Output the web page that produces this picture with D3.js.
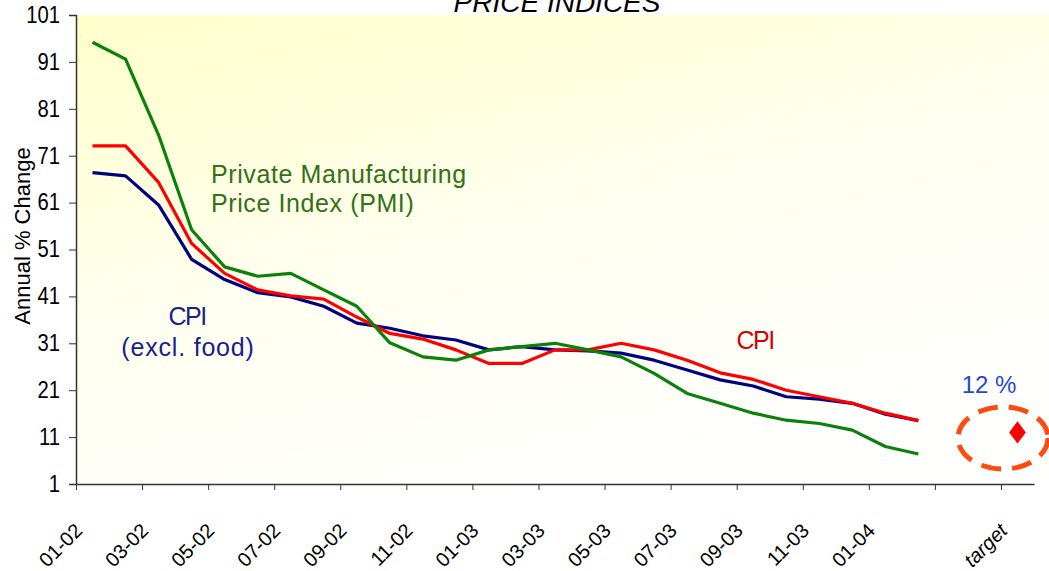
<!DOCTYPE html>
<html>
<head>
<meta charset="utf-8">
<script src="https://cdn.jsdelivr.net/npm/d3@7.9.0/dist/d3.min.js"></script>
<style>
  body { margin: 0; background: #fff; }
  svg text { font-family: "Liberation Sans", Arial, sans-serif; }
</style>
</head>
<body>
<svg id="chart" width="1049" height="571"></svg>
<script>
// Data (annual % change)
const months = ['01-02','02-02','03-02','04-02','05-02','06-02','07-02','08-02','09-02','10-02','11-02','12-02',
                '01-03','02-03','03-03','04-03','05-03','06-03','07-03','08-03','09-03','10-03','11-03','12-03',
                '01-04','02-04'];
const categories = [...months, 'gap1', 'gap2', 'target'];
const pmi = [95.2, 91.6, 75.4, 55.2, 47.3, 45.3, 45.9, 42.4, 38.9, 31.1, 28.1, 27.4, 29.6,
             30.3, 31.0, 29.6, 28.1, 24.6, 20.3, 18.2, 16.1, 14.6, 13.9, 12.5, 9.0, 7.4];
const cpi = [73.1, 73.1, 65.3, 52.3, 45.9, 42.4, 41.1, 40.4, 36.6, 33.1, 31.9, 29.6, 26.7,
             26.7, 29.6, 29.6, 31.0, 29.6, 27.4, 24.7, 23.3, 21.0, 19.6, 18.2, 16.1, 14.5];
const cpiExFood = [67.4, 66.7, 60.5, 48.9, 44.6, 41.8, 40.9, 38.9, 35.3, 34.2, 32.6, 31.7, 29.6,
                   30.3, 29.6, 29.4, 28.9, 27.4, 25.3, 23.2, 21.9, 19.6, 19.1, 18.2, 15.9, 14.5];
const targetValue = 12;
const yTicks = [1, 11, 21, 31, 41, 51, 61, 71, 81, 91, 101];

const svg = d3.select('#chart');
const plotLeft = 76, plotRight = 1034, plotTop = 15, plotBottom = 484;

// Background gradient of the plot area
const defs = svg.append('defs');
const grad = defs.append('linearGradient').attr('id', 'bg')
  .attr('x1', 0).attr('y1', 0).attr('x2', 0.5).attr('y2', 1);
grad.append('stop').attr('offset', '0%').attr('stop-color', '#ffffca');
grad.append('stop').attr('offset', '55%').attr('stop-color', '#fffff0');
grad.append('stop').attr('offset', '100%').attr('stop-color', '#fffffd');
svg.append('rect').attr('x', plotLeft).attr('y', plotTop)
  .attr('width', 1049 - plotLeft).attr('height', plotBottom - plotTop)
  .attr('fill', 'url(#bg)');

// Scales
const x = d3.scaleBand().domain(categories).range([plotLeft, plotRight]).padding(0);
const xc = d => x(d) + x.bandwidth() / 2;
const y = d3.scaleLinear().domain([1, 101]).range([plotBottom, plotTop]);
const tickPos = d3.scaleLinear().domain([0, categories.length]).range([plotLeft, plotRight]);

// Title (its upper part runs off the top, as in the source)
svg.append('text').attr('x', 557).attr('y', 12)
  .attr('text-anchor', 'middle').attr('font-size', 28).attr('font-style', 'italic')
  .attr('fill', '#000').text('PRICE INDICES');

// Y axis (labels are narrow in the source, so squeeze them)
const sx = 0.88;
const yAxis = svg.append('g').attr('transform', `translate(${plotLeft},0)`)
  .call(d3.axisLeft(y).tickValues(yTicks).tickSize(7).tickPadding(9).tickFormat(d3.format('d')));
yAxis.select('.domain').attr('stroke', '#333').attr('stroke-width', 1.5);
yAxis.selectAll('.tick line').attr('stroke', '#333');
yAxis.selectAll('.tick text')
  .attr('x', -16 / sx)
  .attr('transform', `scale(${sx},1)`)
  .attr('font-size', 23).attr('fill', '#000')
  .attr('font-family', '"Liberation Sans", Arial, sans-serif');

svg.append('text')
  .attr('transform', 'translate(30,236) rotate(-90)')
  .attr('text-anchor', 'middle').attr('font-size', 22).attr('fill', '#000')
  .text('Annual % Change');

// X axis: tick marks every two categories
const xAxis = svg.append('g').attr('transform', `translate(0,${plotBottom})`)
  .call(d3.axisBottom(tickPos).tickValues(d3.range(0, categories.length, 2))
    .tickSize(6).tickSizeOuter(0).tickFormat(''));
xAxis.select('.domain').attr('stroke', '#333').attr('stroke-width', 1.5);
xAxis.selectAll('.tick line').attr('stroke', '#333');

// X labels at every second category, rotated
const labelCats = categories.filter((d, i) => i % 2 === 0);
svg.append('g').selectAll('text').data(labelCats).join('text')
  .attr('transform', d => `translate(${xc(d) - 9},${plotBottom + 48}) rotate(-45)`)
  .attr('text-anchor', 'end').attr('font-size', 20).attr('fill', '#000')
  .attr('font-style', d => d === 'target' ? 'italic' : 'normal')
  .text(d => d.startsWith('gap') ? '' : d);

// Lines
const line = d3.line().x((d, i) => xc(months[i])).y(d => y(d));
const series = [
  { values: cpiExFood, color: '#000080' },
  { values: cpi, color: '#ff0000' },
  { values: pmi, color: '#0b800b' }
];
svg.append('g').selectAll('path').data(series).join('path')
  .attr('d', d => line(d.values))
  .attr('fill', 'none').attr('stroke', d => d.color)
  .attr('stroke-width', 3.2).attr('stroke-linejoin', 'round');

// Target marker and dashed ellipse
svg.append('ellipse').attr('cx', 1003).attr('cy', 438).attr('rx', 45).attr('ry', 31)
  .attr('fill', 'none').attr('stroke', '#ff4a10').attr('stroke-width', 5)
  .attr('stroke-dasharray', '20,11');
svg.append('path')
  .attr('d', d3.symbol().type(d3.symbolDiamond).size(200))
  .attr('transform', `translate(${xc('target')},${y(targetValue)}) scale(1.1,0.85)`)
  .attr('fill', '#ff0000');
svg.append('text').attr('x', 989).attr('y', 393).attr('text-anchor', 'middle')
  .attr('font-size', 24).attr('fill', '#1f48d4').text('12 %');

// Series annotations
const pmiLabel = svg.append('text').attr('font-size', 25).attr('letter-spacing', 0.6)
  .attr('fill', '#347018');
pmiLabel.append('tspan').attr('x', 211).attr('y', 183).text('Private Manufacturing');
pmiLabel.append('tspan').attr('x', 211).attr('y', 212).text('Price Index (PMI)');

const exLabel = svg.append('text').attr('font-size', 25).attr('fill', '#1c1c8c')
  .attr('text-anchor', 'middle');
exLabel.append('tspan').attr('x', 187).attr('y', 325).attr('letter-spacing', -1.5).text('CPI');
exLabel.append('tspan').attr('x', 188).attr('y', 356).attr('letter-spacing', 0.8).text('(excl. food)');

svg.append('text').attr('x', 755).attr('y', 349).attr('text-anchor', 'middle')
  .attr('font-size', 25).attr('letter-spacing', -1.5).attr('fill', '#d40000').text('CPI');
</script>
</body>
</html>
